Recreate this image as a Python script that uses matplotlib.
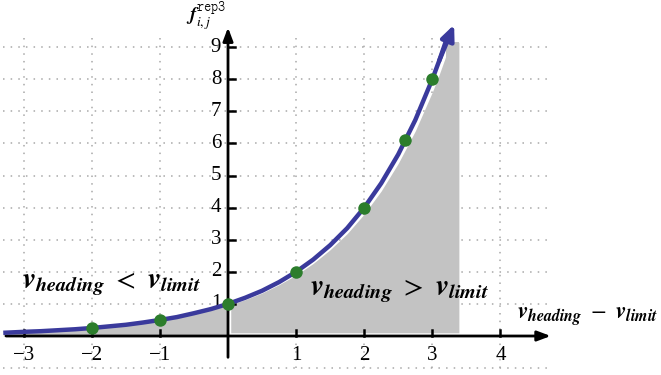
import matplotlib
matplotlib.use("Agg")
import matplotlib.pyplot as plt

plt.rcParams['mathtext.fontset'] = 'stix'

# curve (x, f)
curve_x = [-3.3, -3.0, -2.75, -2.5, -2.25, -2.0, -1.75, -1.5, -1.25, -1.0, -0.75, -0.5, -0.25, 0.0,
           0.25, 0.5, 0.75, 1.0, 1.25, 1.5, 1.75, 2.0, 2.25, 2.5, 2.75, 3.0, 3.1, 3.2]
curve_y = [0.10, 0.13, 0.15, 0.18, 0.21, 0.25, 0.30, 0.35, 0.42, 0.50, 0.59, 0.71, 0.84, 1.00,
           1.19, 1.41, 1.68, 2.00, 2.38, 2.83, 3.36, 4.00, 4.76, 5.66, 6.73, 8.00, 8.57, 9.19]
arrow_tip = (3.32, 9.7)

# marked points
pts_x = [-2, -1, 0, 1, 2, 2.6, 3]
pts_y = [0.25, 0.5, 1, 2, 4, 6.1, 8]

# grey region boundaries
fill_left_x = [v for v in curve_x if v <= 0]
fill_left_y = curve_y[:len(fill_left_x)]
fill_right_x = [0.04, 0.25, 0.5, 0.75, 1.0, 1.25, 1.5, 1.75, 2.0, 2.25, 2.5, 2.75, 3.0, 3.1, 3.2, 3.39]
fill_right_y = [0.98, 1.13, 1.34, 1.60, 1.90, 2.26, 2.69, 3.19, 3.80, 4.52, 5.38, 6.39, 7.60, 8.14, 8.73, 9.15]

xticks = [-3, -2, -1, 1, 2, 3, 4]
xtick_labels = ['\u22123', '\u22122', '\u22121', '1', '2', '3', '4']
yticks = [1, 2, 3, 4, 5, 6, 7, 8, 9]
grid_x = [-3, -2, -1, 1, 2, 3, 4]
grid_y = [-1, 1, 2, 3, 4, 5, 6, 7, 8, 9]

fig = plt.figure(figsize=(6.61, 3.75), dpi=100)
ax = fig.add_axes([0, 0, 1, 1])
ax.set_xlim(-3.348, 6.358)
ax.set_ylim(-1.215, 10.47)
ax.axis('off')

dot = (0, (1, 4))
gcol = '#a8a8a8'
ax.vlines(grid_x, -1.0, 9.3, colors=gcol, linestyles=dot, lw=1.1, zorder=1)
ax.hlines(grid_y, -3.3, 4.75, colors=gcol, linestyles=dot, lw=1.1, zorder=1)

# grey fill
ax.fill_between(fill_left_x, 0, fill_left_y, color='#c3c3c3', lw=0, zorder=2)
ax.fill_between(fill_right_x, 0.1, fill_right_y, color='#c3c3c3', lw=0, zorder=2)
ax.fill_between([3.2, 3.39], 0.1, [9.15, 9.15], color='#c3c3c3', lw=0, zorder=2)

# axes with arrows
ax.annotate('', xy=(4.78, 0), xytext=(-3.3, 0),
            arrowprops=dict(arrowstyle='-|>,head_length=0.8,head_width=0.3', color='black', lw=2),
            zorder=4)
ax.annotate('', xy=(0, 9.7), xytext=(0, -0.75),
            arrowprops=dict(arrowstyle='-|>,head_length=0.8,head_width=0.3', color='black', lw=2),
            zorder=4)
for xt, lab in zip(xticks, xtick_labels):
    ax.plot([xt, xt], [0, 0.18], color='black', lw=1.8, zorder=4)
    ax.text(xt, -0.62, lab, ha='center', va='center', fontsize=15, family='Liberation Serif')
for yt in yticks:
    ax.plot([0, 0.1], [yt, yt], color='black', lw=1.8, zorder=4)
    ax.text(-0.1, yt, str(yt), ha='right', va='center', fontsize=15, family='Liberation Serif')

# curve
blue = '#3a3a9c'
ax.plot(curve_x, curve_y, color=blue, lw=3.2, zorder=5, solid_capstyle='butt')
ax.annotate('', xy=arrow_tip, xytext=(curve_x[-2], curve_y[-2]),
            arrowprops=dict(arrowstyle='-|>,head_length=0.9,head_width=0.4', color=blue, lw=3.2,
                            shrinkA=0, shrinkB=0), zorder=5)
ax.plot(pts_x, pts_y, 'o', color='#2c7d2c', ms=9, mec='none', zorder=6)

# texts
ax.text(-3.02, 1.62, r'$\mathbfit{v}_{\mathbfit{heading}}\ <\ \mathbfit{v}_{\mathbfit{limit}}$',
        fontsize=21, ha='left', va='center', zorder=7)
ax.text(1.2, 1.4, r'$\mathbfit{v}_{\mathbfit{heading}}\ >\ \mathbfit{v}_{\mathbfit{limit}}$',
        fontsize=21, ha='left', va='center', zorder=7)
ax.text(4.24, 0.62, r'$\mathbfit{v}_{\mathbfit{heading}}\ -\ \mathbfit{v}_{\mathbfit{limit}}$',
        fontsize=16.5, ha='left', va='center', zorder=7)
ax.text(-0.62, 9.95, r'$\mathbfit{f}_{i,j}^{\mathtt{rep3}}$',
        fontsize=14, ha='left', va='center', zorder=7)

fig.savefig('out.png', dpi=100)
